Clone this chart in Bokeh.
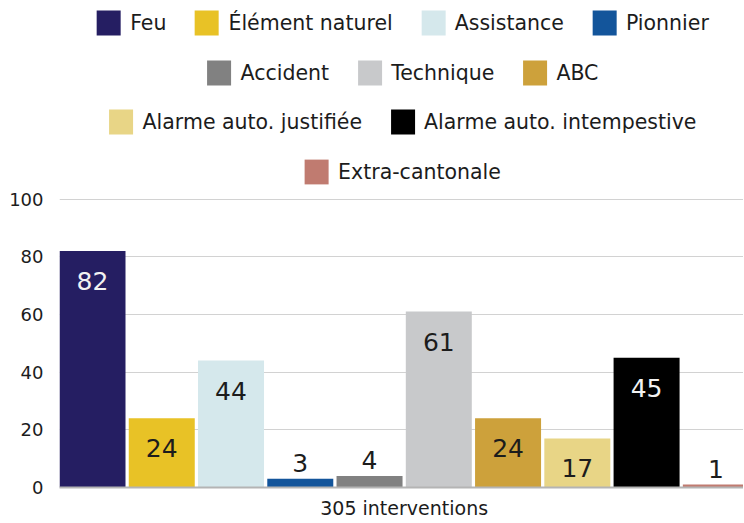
from bokeh.plotting import figure
from bokeh.models import ColumnDataSource, Range1d, FixedTicker, Legend, LegendItem
from bokeh.embed import file_html
from bokeh.resources import INLINE
from bokeh.core.properties import value

# ---- data ----
categories = ["Feu", "Élément naturel", "Assistance", "Pionnier", "Accident",
              "Technique", "ABC", "Alarme auto. justifiée",
              "Alarme auto. intempestive", "Extra-cantonale"]
counts = [82, 24, 44, 3, 4, 61, 24, 17, 45, 1]
colors = ["#251E62", "#E8C226", "#D5E8EC", "#13559B", "#818181",
          "#C8C9CB", "#CDA13B", "#E8D586", "#000000", "#C07B70"]
y_ticks = [0, 20, 40, 60, 80, 100]
unit_label = "interventions"
legend_row_sizes = [4, 3, 2, 1]

# ---- style ----
FONT = "DejaVu Sans"
TEXT = "#1c1c1c"
frame_w, frame_h = 684, 480
border_left, border_top = 59, 7
pitch_px, bar_px = 69.26, 66
px_per_unit_y = 2.885
legend_margins = [0, 50, 99, 149]


def is_dark(hex_color):
    r, g, b = (int(hex_color[i:i + 2], 16) for i in (1, 3, 5))
    return 0.299 * r + 0.587 * g + 0.114 * b < 100


bw = bar_px / pitch_px
x0 = -bw / 2
x_range = Range1d(x0, x0 + frame_w / pitch_px)
y_range = Range1d(0, frame_h / px_per_unit_y)

xs = list(range(len(categories)))
inside = [c >= 10 for c in counts]
label_offsets = [30 if ins else -16 for ins in inside]
label_colors = ["#f2f2f2" if (ins and is_dark(col)) else TEXT
                for ins, col in zip(inside, colors)]

source = ColumnDataSource(dict(x=xs, top=counts, color=colors, cat=categories,
                               label=[str(c) for c in counts],
                               dy=label_offsets, tcol=label_colors))

p = figure(frame_width=frame_w, frame_height=frame_h, x_range=x_range, y_range=y_range,
           output_backend="svg", toolbar_location=None,
           min_border_left=border_left, min_border_right=0,
           min_border_top=border_top, min_border_bottom=0)
p.outline_line_color = None
p.background_fill_color = "white"
p.border_fill_color = "white"

r = p.vbar(x="x", top="top", width=bw, bottom=0, fill_color="color",
           line_color=None, source=source)
p.text(x="x", y="top", text="label", y_offset="dy", text_align="center",
       text_baseline="middle", text_color="tcol", text_font=value(FONT),
       text_font_size="25px", text_font_style="normal", source=source)

# y axis
p.yaxis.ticker = FixedTicker(ticks=y_ticks)
p.yaxis.axis_line_color = None
p.yaxis.major_tick_line_color = None
p.yaxis.minor_tick_line_color = None
p.yaxis.major_tick_out = 0
p.yaxis.major_label_text_font = FONT
p.yaxis.major_label_text_font_size = "18px"
p.yaxis.major_label_text_color = TEXT
p.yaxis.major_label_standoff = 16
p.ygrid.grid_line_color = "#d2d2d2"
p.ygrid.grid_line_width = 1
p.xgrid.grid_line_color = None

# x axis: one label for the whole group
center = (len(categories) - 1) / 2
p.xaxis.ticker = FixedTicker(ticks=[center])
p.xaxis.major_label_overrides = {center: f"{sum(counts)} {unit_label}"}
p.xaxis.axis_line_color = "#b4b4b4"
p.xaxis.axis_line_width = 2
p.xaxis.major_tick_line_color = None
p.xaxis.minor_tick_line_color = None
p.xaxis.major_tick_out = 0
p.xaxis.major_tick_in = 0
p.xaxis.axis_label_standoff = 0
p.xaxis.major_label_text_font = FONT
p.xaxis.major_label_text_font_size = "19px"
p.xaxis.major_label_text_color = TEXT
p.xaxis.major_label_standoff = 9

# legend rows
items = [LegendItem(label=value(c), renderers=[r], index=i)
         for i, c in enumerate(categories)]
start = 0
for n, m in zip(legend_row_sizes, legend_margins):
    leg = Legend(items=items[start:start + n], orientation="horizontal",
                 location="top_center", margin=m, padding=0, spacing=25,
                 label_standoff=7, glyph_width=30, glyph_height=31,
                 label_text_font=FONT, label_text_font_size="20.5px",
                 label_text_color=TEXT, border_line_color=None,
                 background_fill_alpha=0)
    p.add_layout(leg)
    start += n

open("out.html", "w").write(file_html(p, INLINE))
